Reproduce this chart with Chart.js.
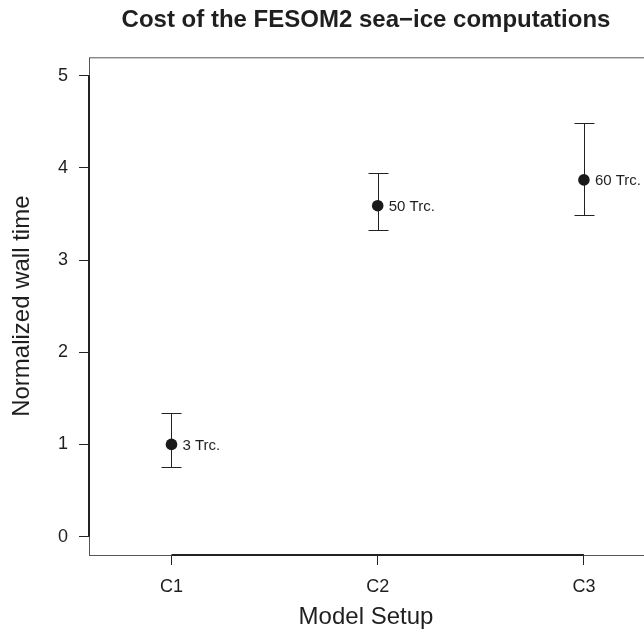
<!DOCTYPE html>
<html>
<head>
<meta charset="utf-8">
<title>Cost of the FESOM2 sea-ice computations</title>
<script src="https://cdn.jsdelivr.net/npm/chart.js@4.4.1/dist/chart.umd.min.js"></script>
<style>
  html, body { margin: 0; padding: 0; background: #fff; overflow: hidden; }
  #wrap { position: relative; width: 732px; height: 630px; }
</style>
</head>
<body>
<div id="wrap"><canvas id="chart"></canvas></div>
<script>
// ---- data ----
const categories = ['C1', 'C2', 'C3'];
const meanTime = [1.0, 3.59, 3.87];
const lowerTime = [0.76, 3.33, 3.49];
const upperTime = [1.34, 3.95, 4.49];
const tracerLabels = ['3 Trc.', '50 Trc.', '60 Trc.'];
const yTicks = [0, 1, 2, 3, 4, 5];

const FONT = '"Liberation Sans", Arial, Helvetica, sans-serif';
const INK = '#1f1f1f';

// R base-graphics look: thin box, thick axis lines over the tick range,
// error bars with caps and a text label next to each point
const rBasePlot = {
  id: 'rBasePlot',
  beforeDatasetsDraw(chart) {
    const { ctx, chartArea: a, scales: { x, y } } = chart;
    ctx.save();
    ctx.strokeStyle = '#555';
    ctx.lineWidth = 1;
    ctx.strokeRect(a.left + 0.5, a.top + 0.5, a.right - a.left, a.bottom - a.top);

    ctx.strokeStyle = '#222';
    ctx.lineWidth = 2;
    ctx.beginPath();
    ctx.moveTo(a.left, y.getPixelForValue(yTicks[0]));
    ctx.lineTo(a.left, y.getPixelForValue(yTicks[yTicks.length - 1]));
    ctx.moveTo(x.getPixelForValue(1), a.bottom);
    ctx.lineTo(x.getPixelForValue(categories.length), a.bottom);
    ctx.stroke();

    ctx.lineWidth = 1;
    ctx.strokeStyle = '#222';
    categories.forEach((c, i) => {
      const px = Math.round(x.getPixelForValue(i + 1)) + 0.5;
      const lo = Math.round(y.getPixelForValue(lowerTime[i])) + 0.5;
      const hi = Math.round(y.getPixelForValue(upperTime[i])) + 0.5;
      ctx.beginPath();
      ctx.moveTo(px, lo);
      ctx.lineTo(px, hi);
      ctx.moveTo(px - 10, lo);
      ctx.lineTo(px + 10, lo);
      ctx.moveTo(px - 10, hi);
      ctx.lineTo(px + 10, hi);
      ctx.stroke();
    });
    ctx.restore();
  },
  afterDatasetsDraw(chart) {
    const { ctx, scales: { x, y } } = chart;
    ctx.save();
    ctx.fillStyle = INK;
    ctx.font = '15px ' + FONT;
    ctx.textAlign = 'left';
    ctx.textBaseline = 'middle';
    tracerLabels.forEach((t, i) => {
      ctx.fillText(t, x.getPixelForValue(i + 1) + 11, y.getPixelForValue(meanTime[i]) + 1);
    });
    ctx.restore();
  },
  afterDraw(chart) {
    // x-axis title, centred like the main title
    const { ctx } = chart;
    ctx.save();
    ctx.fillStyle = INK;
    ctx.font = '24px ' + FONT;
    ctx.textAlign = 'center';
    ctx.textBaseline = 'middle';
    ctx.fillText('Model Setup', chart.width / 2, 617);
    ctx.restore();
  }
};

new Chart(document.getElementById('chart'), {
  type: 'scatter',
  data: {
    datasets: [{
      data: meanTime.map((v, i) => ({ x: i + 1, y: v })),
      backgroundColor: '#1a1a1a',
      borderWidth: 0,
      pointRadius: 5.8,
      pointHoverRadius: 5.8
    }]
  },
  options: {
    responsive: true,
    maintainAspectRatio: false,
    animation: false,
    layout: { padding: 0 },
    plugins: {
      legend: { display: false },
      tooltip: { enabled: false },
      title: {
        display: true,
        text: 'Cost of the FESOM2 sea\u2212ice computations',
        color: INK,
        font: { family: FONT, size: 24, weight: 'bold' },
        padding: { top: 5.6, bottom: 22.9 }
      }
    },
    scales: {
      x: {
        type: 'linear',
        min: 0.6,
        max: 3.69,
        afterBuildTicks: (scale) => { scale.ticks = categories.map((c, i) => ({ value: i + 1 })); },
        afterFit: (scale) => { scale.height = 75; },
        ticks: {
          color: INK,
          font: { family: FONT, size: 18 },
          padding: 11,
          callback: (v) => categories[v - 1]
        },
        grid: { display: true, drawOnChartArea: false, drawTicks: true, tickLength: 10, color: '#222', lineWidth: 1 },
        border: { display: false }
      },
      y: {
        min: -0.2,
        max: 5.2,
        afterBuildTicks: (scale) => { scale.ticks = yTicks.map(v => ({ value: v })); },
        afterFit: (scale) => { scale.width = 89; },
        ticks: {
          color: INK,
          font: { family: FONT, size: 18 },
          padding: 11
        },
        grid: { display: true, drawOnChartArea: false, drawTicks: true, tickLength: 10, color: '#222', lineWidth: 1 },
        border: { display: false },
        title: {
          display: true,
          text: 'Normalized wall time',
          color: INK,
          font: { family: FONT, size: 24 },
          padding: { top: 7.6, bottom: 0 }
        }
      }
    }
  },
  plugins: [rBasePlot]
});
</script>
</body>
</html>
